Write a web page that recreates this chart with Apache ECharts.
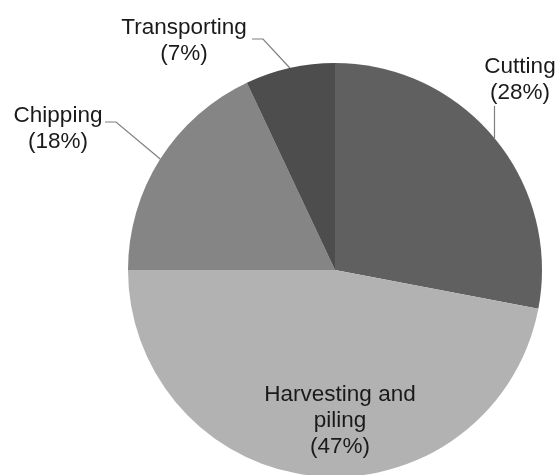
<!DOCTYPE html>
<html>
<head>
<meta charset="utf-8">
<script src="https://cdn.jsdelivr.net/npm/echarts@6/dist/echarts.min.js"></script>
<style>
  html, body { margin: 0; padding: 0; background: #fff; }
  #main { width: 558px; height: 475px; }
</style>
</head>
<body>
<div id="main"></div>
<script>
var categories = ['Cutting', 'Harvesting and piling', 'Chipping', 'Transporting'];
var shares = [28, 47, 18, 7];
var sliceColors = ['#606060', '#b2b2b2', '#858585', '#4d4d4d'];

var myChart = echarts.init(document.getElementById('main'));

// where each label block sits (centre x, top y) and how its leader line bends
var labelSpots = [
    { x: 520, y: 54, line: function (p) { return [p, [p[0], 120], [p[0], 106]]; } },
    { x: 340, y: 382, line: null },
    { x: 58, y: 103, line: function (p) { return [p, [116, 122], [105, 122]]; } },
    { x: 184, y: 15, line: function (p) { return [p, [263, 39], [252, 39]]; } }
];

var option = {
    backgroundColor: '#fff',
    series: [
        {
            type: 'pie',
            center: [335, 270],
            radius: 207,
            startAngle: 90,
            clockwise: true,
            animation: false,
            data: categories.map(function (name, i) {
                return { name: name, value: shares[i], itemStyle: { color: sliceColors[i] } };
            }),
            label: {
                show: true,
                position: 'outside',
                fontFamily: 'Liberation Sans, Arial, sans-serif',
                fontSize: 22.5,
                lineHeight: 26,
                color: '#1a1a1a',
                align: 'center',
                width: 200,
                overflow: 'none',
                formatter: function (p) {
                    var n = p.name.replace(' and ', ' and\n');
                    return n + '\n(' + Math.round(p.percent) + '%)';
                }
            },
            labelLine: {
                show: true,
                lineStyle: { color: '#7f7f7f', width: 1.2 }
            },
            labelLayout: function (params) {
                var s = labelSpots[params.dataIndex];
                var out = { x: s.x, y: s.y, align: 'center', verticalAlign: 'top' };
                if (s.line && params.labelLinePoints) {
                    out.labelLinePoints = s.line(params.labelLinePoints[0]);
                } else {
                    out.labelLinePoints = [[0, 0], [0, 0], [0, 0]];
                }
                return out;
            }
        }
    ]
};

myChart.setOption(option);
</script>
</body>
</html>
